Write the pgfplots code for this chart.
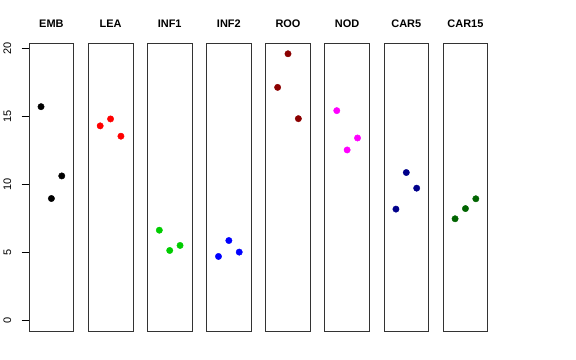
\documentclass[border=0pt]{standalone}
\usepackage{fontspec}
\setmainfont{Liberation Sans}
\usepackage{pgfplots}
\pgfplotsset{compat=1.18}
\definecolor{rgreen}{HTML}{00CD00}
\definecolor{rdarkred}{HTML}{8B0000}
\definecolor{rnavy}{HTML}{00008B}
\definecolor{rdarkgreen}{HTML}{006400}
\definecolor{rmagenta}{HTML}{FF00FF}
\pgfplotsset{panel/.style={
  scale only axis, width=44.8bp, height=287.7bp,
  xmin=-0.16, xmax=4.16, ymin=-0.78, ymax=20.37,
  xtick=\empty, ytick=\empty,
  axis line style={line width=0.8bp, black!80},
  anchor=south west,
  title style={at={(0.5,1)}, anchor=base, yshift=10.3bp, inner sep=0pt,
    font=\fontsize{11}{13}\selectfont\bfseries},
 },
 pts/.style={only marks, mark=*, mark size=3.2bp, mark options={draw=#1, fill=#1}}
}
\begin{document}
\begin{tikzpicture}
\path[use as bounding box] (0,0) rectangle (576bp,360bp);
\begin{axis}[panel, at={(29bp,29bp)}, title={EMB},
  ytick={0,5,10,15,20}, ytick pos=left, tick align=outside, major tick length=7.5bp,
  tick style={line width=0.6bp, black},
  yticklabel style={rotate=90, anchor=south, inner sep=0pt, font=\fontsize{11}{13}\selectfont},
  yticklabel shift=10bp,
  /pgf/number format/assume math mode=true]
\addplot[pts=black] coordinates {(1,15.71) (2,8.96) (3,10.62)};
\end{axis}
\begin{axis}[panel, at={(88.15bp,29bp)}, title={LEA}]
\addplot[pts=red] coordinates {(1,14.30) (2,14.81) (3,13.54)};
\end{axis}
\begin{axis}[panel, at={(147.3bp,29bp)}, title={INF1}]
\addplot[pts=rgreen] coordinates {(1,6.63) (2,5.14) (3,5.51)};
\end{axis}
\begin{axis}[panel, at={(206.45bp,29bp)}, title={INF2}]
\addplot[pts=blue] coordinates {(1,4.70) (2,5.87) (3,5.02)};
\end{axis}
\begin{axis}[panel, at={(265.6bp,29bp)}, title={ROO}]
\addplot[pts=rdarkred] coordinates {(1,17.13) (2,19.60) (3,14.83)};
\end{axis}
\begin{axis}[panel, at={(324.75bp,29bp)}, title={NOD}]
\addplot[pts=rmagenta] coordinates {(1,15.42) (2,12.53) (3,13.41)};
\end{axis}
\begin{axis}[panel, at={(383.9bp,29bp)}, title={CAR5}]
\addplot[pts=rnavy] coordinates {(1,8.18) (2,10.87) (3,9.72)};
\end{axis}
\begin{axis}[panel, at={(443.05bp,29bp)}, title={CAR15}]
\addplot[pts=rdarkgreen] coordinates {(1,7.47) (2,8.22) (3,8.94)};
\end{axis}
\end{tikzpicture}
\end{document}
